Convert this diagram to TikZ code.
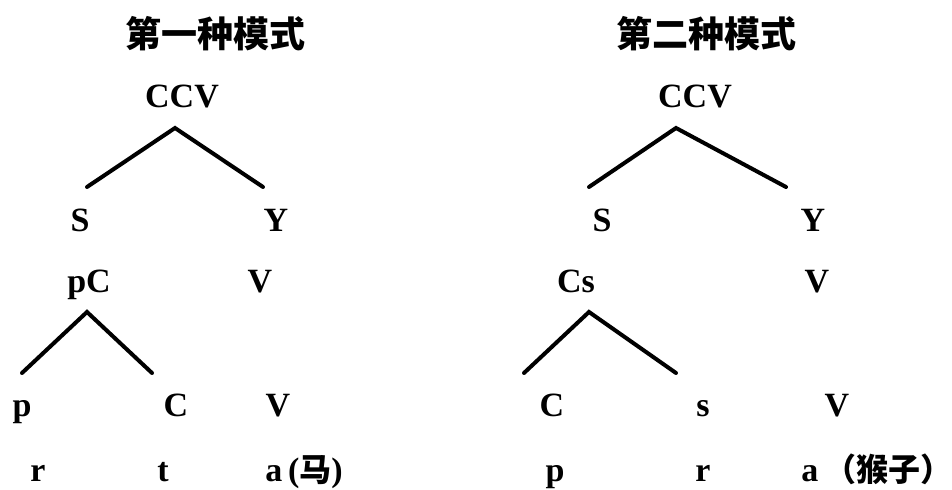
\documentclass[tikz,border=0pt]{standalone}
\usepackage{fontspec}
\setmainfont{Liberation Serif}
\newfontfamily\cjk{Noto Sans CJK SC}
\usetikzlibrary{positioning}

\begin{document}
\begin{tikzpicture}[x=0.5pt, y=-0.5pt,
		lab/.style={inner sep=0pt, anchor=base, font=\fontsize{17}{17}\selectfont\bfseries},
		title/.style={inner sep=0pt, font=\fontsize{18}{18}\selectfont\cjk\bfseries},
		branch/.style={line width=2pt, line cap=round, line join=miter}]
	\useasboundingbox (0,0) rectangle (952,490);
	% first pattern
	\node[title] (t1) at (215,34) {第一种模式};
	\node[lab] (ccv1) at (182,108) {CCV};
	\node[lab] (s1) at (80,232) {S};
	\node[lab] (y1) at (276,232) {Y};
	\node[lab] (pc1) at (89,293) {pC};
	\node[lab] (vv1) at (260,293) {V};
	\node[lab] (p1) at (22,417) {p};
	\node[lab] (c1) at (176,417) {C};
	\node[lab] (v1) at (278,417) {V};
	\node[lab] (r1) at (38,482) {r};
	\node[lab] (tt1) at (163,482) {t};
	\node[lab, anchor=base west] (a1) at (265,482) {a\,({\cjk\fontsize{16}{16}\selectfont\bfseries 马})};
	\coordinate (ccv1top) at (175,128);
	\coordinate (s1end) at (87,187);
	\coordinate (y1end) at (263,187);
	\coordinate (pc1top) at (87,312);
	\coordinate (p1end) at (22,373);
	\coordinate (c1end) at (152,373);
	\draw[branch] (s1end) -- (ccv1top) -- (y1end);
	\draw[branch] (p1end) -- (pc1top) -- (c1end);
	% second pattern
	\node[title] (t2) at (706,34) {第二种模式};
	\node[lab] (ccv2) at (695,108) {CCV};
	\node[lab] (s2) at (602,232) {S};
	\node[lab] (y2) at (813,232) {Y};
	\node[lab] (cs2) at (576,293) {Cs};
	\node[lab] (vv2) at (817,293) {V};
	\node[lab] (c2) at (552,417) {C};
	\node[lab] (ss2) at (703,417) {s};
	\node[lab] (v2) at (837,417) {V};
	\node[lab] (p2) at (555,482) {p};
	\node[lab] (r2) at (703,482) {r};
	\node[lab, anchor=base west] (a2) at (801,482) {a\,{\cjk\fontsize{16}{16}\selectfont\bfseries （猴子）}};
	\coordinate (ccv2top) at (676,128);
	\coordinate (s2end) at (589,187);
	\coordinate (y2end) at (786,187);
	\coordinate (cs2top) at (589,312);
	\coordinate (c2end) at (524,373);
	\coordinate (ss2end) at (676,373);
	\draw[branch] (s2end) -- (ccv2top) -- (y2end);
	\draw[branch] (c2end) -- (cs2top) -- (ss2end);
\end{tikzpicture}
\end{document}
